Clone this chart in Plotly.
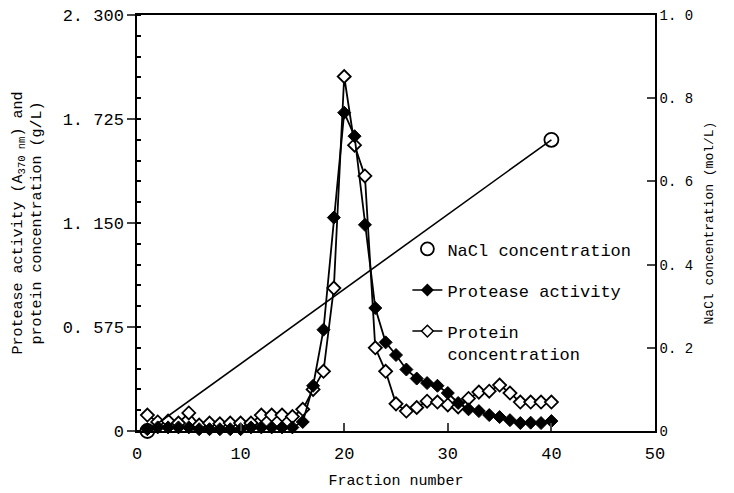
import plotly.graph_objects as go

fractions = list(range(1, 41))
protease_activity = [0.01, 0.02, 0.02, 0.02, 0.02, 0.01, 0.01, 0.01, 0.01, 0.01,
                     0.02, 0.02, 0.02, 0.02, 0.02, 0.05, 0.25, 0.56, 1.18, 1.76,
                     1.63, 1.14, 0.68, 0.49, 0.42, 0.34, 0.29, 0.265, 0.25, 0.21,
                     0.155, 0.12, 0.11, 0.088, 0.077, 0.06, 0.044, 0.046, 0.044, 0.055]
protein_conc = [0.088, 0.05, 0.055, 0.044, 0.10, 0.033, 0.044, 0.04, 0.044, 0.044,
                0.044, 0.088, 0.088, 0.088, 0.08, 0.12, 0.23, 0.33, 0.79, 1.96,
                1.58, 1.41, 0.46, 0.33, 0.15, 0.11, 0.13, 0.165, 0.16, 0.144,
                0.133, 0.18, 0.215, 0.22, 0.254, 0.21, 0.16, 0.16, 0.16, 0.16]
nacl_fractions = [1, 40]
nacl_conc = [0.0, 0.7]

left_ticks = [0, 0.575, 1.15, 1.725, 2.3]
left_ticktext = ["0", "0. 575", "1. 150", "1. 725", "2. 300"]
right_ticks = [0, 0.2, 0.4, 0.6, 0.8, 1.0]
right_ticktext = ["0", "0. 2", "0. 4", "0. 6", "0. 8", "1. 0"]
x_ticks = [0, 10, 20, 30, 40, 50]

FONT = "Liberation Mono"

fig = go.Figure()

# NaCl gradient line (right axis)
fig.add_trace(go.Scatter(
    x=nacl_fractions, y=nacl_conc, yaxis="y2", mode="lines+markers",
    line=dict(color="black", width=1.6),
    marker=dict(symbol="circle-open", size=14, color="black", line=dict(width=1.8)),
    showlegend=False, cliponaxis=False))

fig.add_trace(go.Scatter(
    x=fractions, y=protein_conc, mode="lines+markers",
    line=dict(color="black", width=1.8),
    marker=dict(symbol="diamond", size=10, color="white", line=dict(color="black", width=1.8)),
    showlegend=False, cliponaxis=False))

fig.add_trace(go.Scatter(
    x=fractions, y=protease_activity, mode="lines+markers",
    line=dict(color="black", width=1.8),
    marker=dict(symbol="diamond", size=10, color="black", line=dict(color="black", width=1)),
    showlegend=False, cliponaxis=False))

# legend entries
fig.add_trace(go.Scatter(
    x=[None], y=[None], mode="markers", name="NaCl concentration",
    marker=dict(symbol="circle-open", size=13, color="black", line=dict(width=1.8)),
    legendgroup="a"))
fig.add_trace(go.Scatter(
    x=[None], y=[None], mode="lines+markers", name="Protease activity",
    line=dict(color="black", width=1.5),
    marker=dict(symbol="diamond", size=10, color="black"),
    legendgroup="b"))
fig.add_trace(go.Scatter(
    x=[None], y=[None], mode="lines+markers", name="Protein<br>concentration",
    line=dict(color="black", width=1.5),
    marker=dict(symbol="diamond", size=9, color="white", line=dict(color="black", width=1.5)),
    legendgroup="c"))

fig.update_layout(
    width=734, height=493,
    margin=dict(l=137, r=79, t=15, b=62),
    paper_bgcolor="white", plot_bgcolor="white",
    font=dict(family=FONT, color="black", size=16),
    xaxis=dict(
        range=[0, 50], tickvals=x_ticks, ticks="inside", ticklen=8, tickwidth=1.5,
        showline=True, linewidth=1.5, linecolor="black", mirror=True,
        showgrid=False, zeroline=False, tickfont=dict(size=17),
        ticklabelstandoff=6, automargin=False,
        title=dict(text="Fraction number", font=dict(size=15), standoff=11)),
    yaxis=dict(
        range=[0, 2.3], tickvals=left_ticks, ticktext=left_ticktext,
        ticks="outside", ticklen=8, tickwidth=1.5,
        minor=dict(dtick=0.115, ticks="inside", ticklen=4, tickcolor="black"),
        showline=True, linewidth=1.5, linecolor="black",
        showgrid=False, zeroline=False, tickfont=dict(size=17), automargin=False,
        title=dict(text="Protease activity (A<sub>370 nm</sub>) and<br>protein concentration (g/L)",
                   font=dict(size=15), standoff=17)),
    yaxis2=dict(
        range=[0, 1.0], tickvals=right_ticks, ticktext=right_ticktext,
        overlaying="y", side="right", anchor="x",
        ticks="inside", ticklen=8, tickwidth=1.5,
        showline=True, linewidth=1.5, linecolor="black",
        showgrid=False, zeroline=False, tickfont=dict(size=14),
        ticklabelstandoff=0, automargin=False,
        title=dict(text="NaCl concentration (mol/L)", font=dict(size=13), standoff=12)),
    legend=dict(
        x=0.522, y=0.48, xanchor="left", yanchor="top",
        bgcolor="rgba(0,0,0,0)", font=dict(size=17, family=FONT),
        tracegroupgap=16, traceorder="grouped", valign="top"),
)

fig.write_html("out.html", config={"displayModeBar": False},
               post_script="document.body.style.margin='0';")
